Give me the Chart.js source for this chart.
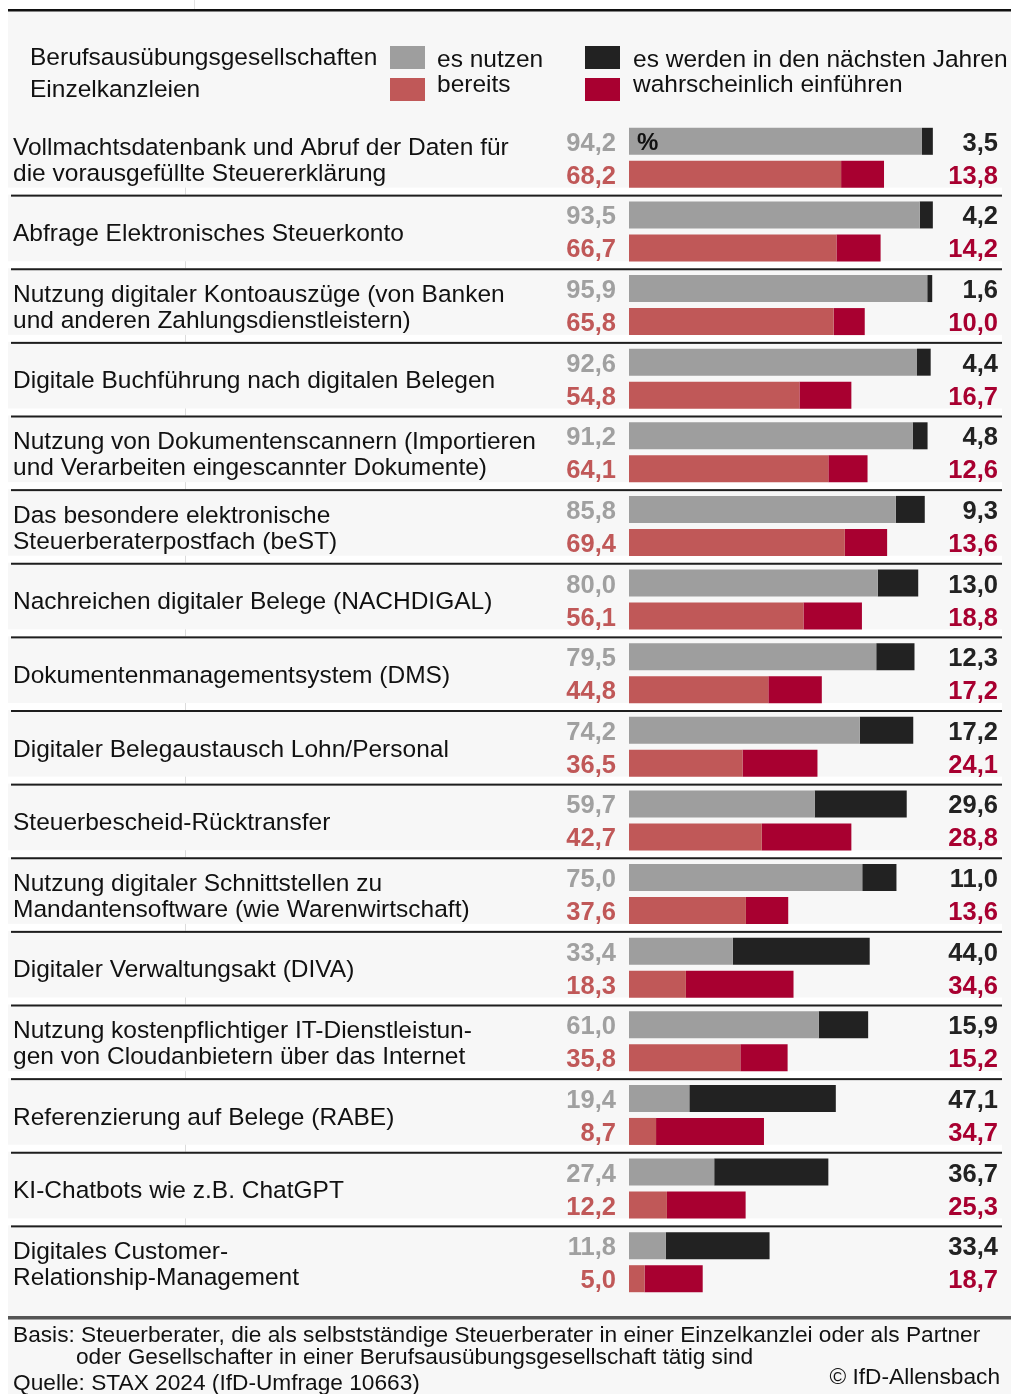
<!DOCTYPE html>
<html>
<head>
<meta charset="utf-8">
<script src="https://cdn.jsdelivr.net/npm/chart.js@4/dist/chart.umd.min.js"></script>
<style>
  body { margin: 0; background: #fff; }
  #c { display: block; }
</style>
</head>
<body>
<canvas id="c" width="1011" height="1394" style="width:1011px;height:1394px"></canvas>
<script>
// Kategorien (mehrzeilig als Arrays)
const categories = [
  ['Vollmachtsdatenbank und Abruf der Daten für', 'die vorausgefüllte Steuererklärung'],
  ['Abfrage Elektronisches Steuerkonto'],
  ['Nutzung digitaler Kontoauszüge (von Banken', 'und anderen Zahlungsdienstleistern)'],
  ['Digitale Buchführung nach digitalen Belegen'],
  ['Nutzung von Dokumentenscannern (Importieren', 'und Verarbeiten eingescannter Dokumente)'],
  ['Das besondere elektronische', 'Steuerberaterpostfach (beST)'],
  ['Nachreichen digitaler Belege (NACHDIGAL)'],
  ['Dokumentenmanagementsystem (DMS)'],
  ['Digitaler Belegaustausch Lohn/Personal'],
  ['Steuerbescheid-Rücktransfer'],
  ['Nutzung digitaler Schnittstellen zu', 'Mandantensoftware (wie Warenwirtschaft)'],
  ['Digitaler Verwaltungsakt (DIVA)'],
  ['Nutzung kostenpflichtiger IT-Dienstleistun-', 'gen von Cloudanbietern über das Internet'],
  ['Referenzierung auf Belege (RABE)'],
  ['KI-Chatbots wie z.B. ChatGPT'],
  ['Digitales Customer-', 'Relationship-Management']
];

// Berufsausübungsgesellschaften
const bagNutzen = [94.2, 93.5, 95.9, 92.6, 91.2, 85.8, 80.0, 79.5, 74.2, 59.7, 75.0, 33.4, 61.0, 19.4, 27.4, 11.8];
const bagPlanen = [3.5, 4.2, 1.6, 4.4, 4.8, 9.3, 13.0, 12.3, 17.2, 29.6, 11.0, 44.0, 15.9, 47.1, 36.7, 33.4];
// Einzelkanzleien
const ekNutzen = [68.2, 66.7, 65.8, 54.8, 64.1, 69.4, 56.1, 44.8, 36.5, 42.7, 37.6, 18.3, 35.8, 8.7, 12.2, 5.0];
const ekPlanen = [13.8, 14.2, 10.0, 16.7, 12.6, 13.6, 18.8, 17.2, 24.1, 28.8, 13.6, 34.6, 15.2, 34.7, 25.3, 18.7];

const GRAY = '#9e9e9e', BLACK = '#222222', RED = '#c05858', CRIMSON = '#a80030';
const FONT = '"Liberation Sans", Arial, Helvetica, sans-serif';

function fmt(v) { return v.toFixed(1).replace('.', ','); }

const decor = {
  id: 'decor',
  beforeDraw(chart) {
    const ctx = chart.ctx;
    const y = chart.scales.y;
    ctx.save();
    ctx.fillStyle = '#fff';
    ctx.fillRect(0, 0, chart.width, chart.height);
    ctx.fillStyle = '#f7f7f7';
    ctx.fillRect(8, 11, chart.width - 8, chart.height - 11);
    // faint line at top
    ctx.fillStyle = '#e2e2e2';
    ctx.fillRect(194, 0, 1, 9);
    // top rule
    ctx.fillStyle = '#111';
    ctx.fillRect(8, 9, chart.width - 8, 2.5);
    // group separators
    for (let i = 0; i < categories.length - 1; i++) {
      const b = (y.getPixelForValue(i) + y.getPixelForValue(i + 1)) / 2;
      ctx.fillStyle = '#ffffff';
      ctx.fillRect(8, b - 7, 994, 7);
      ctx.fillStyle = '#dcdcdc';
      ctx.fillRect(185, b - 7, 1, 7);
      ctx.fillStyle = '#1e1e1e';
      ctx.fillRect(11, b, 991, 2);
    }
    // bottom rule
    ctx.fillStyle = '#555';
    ctx.fillRect(8, 1316, chart.width - 8, 3.5);
    ctx.restore();
  },
  afterDatasetsDraw(chart) {
    const ctx = chart.ctx;
    const y = chart.scales.y;
    const metaTop = chart.getDatasetMeta(0);
    const metaBot = chart.getDatasetMeta(2);
    ctx.save();
    ctx.textBaseline = 'middle';

    // category labels
    ctx.font = '24.5px ' + FONT;
    ctx.fillStyle = '#111';
    ctx.textAlign = 'left';
    categories.forEach((lines, i) => {
      const c = y.getPixelForValue(i);
      if (lines.length === 1) {
        ctx.fillText(lines[0], 13, c + 3);
      } else {
        ctx.fillText(lines[0], 13, c - 10);
        ctx.fillText(lines[1], 13, c + 16);
      }
    });

    // values
    ctx.font = 'bold 25.5px ' + FONT;
    categories.forEach((_, i) => {
      const yt = metaTop.data[i].y;
      const yb = metaBot.data[i].y;
      ctx.textAlign = 'right';
      ctx.fillStyle = '#a0a0a0';
      ctx.fillText(fmt(bagNutzen[i]), 616, yt + 2.5);
      ctx.fillStyle = RED;
      ctx.fillText(fmt(ekNutzen[i]), 616, yb + 2.5);
      ctx.fillStyle = BLACK;
      ctx.fillText(fmt(bagPlanen[i]), 998, yt + 2.5);
      ctx.fillStyle = CRIMSON;
      ctx.fillText(fmt(ekPlanen[i]), 998, yb + 2.5);
    });

    // percent sign in first bar
    ctx.textAlign = 'left';
    ctx.fillStyle = '#111';
    ctx.font = 'bold 24px ' + FONT;
    ctx.fillText('%', 637, metaTop.data[0].y + 2);

    // legend
    ctx.font = '24.5px ' + FONT;
    ctx.fillStyle = '#111';
    ctx.fillText('Berufsausübungsgesellschaften', 30, 58);
    ctx.fillText('Einzelkanzleien', 30, 90);
    ctx.fillStyle = GRAY; ctx.fillRect(390, 46, 35, 23);
    ctx.fillStyle = RED; ctx.fillRect(390, 78, 35, 23);
    ctx.fillStyle = BLACK; ctx.fillRect(585, 46, 35, 23);
    ctx.fillStyle = CRIMSON; ctx.fillRect(585, 78, 35, 23);
    ctx.fillStyle = '#111';
    ctx.fillText('es nutzen', 437, 60);
    ctx.fillText('bereits', 437, 85);
    ctx.fillText('es werden in den nächsten Jahren', 633, 60);
    ctx.fillText('wahrscheinlich einführen', 633, 85);

    // footer
    ctx.font = '22.7px ' + FONT;
    ctx.fillText('Basis: Steuerberater, die als selbstständige Steuerberater in einer Einzelkanzlei oder als Partner', 13, 1336);
    ctx.fillText('oder Gesellschafter in einer Berufsausübungsgesellschaft tätig sind', 76, 1358);
    ctx.fillText('Quelle: STAX 2024 (IfD-Umfrage 10663)', 13, 1384);
    ctx.textAlign = 'right';
    ctx.fillText('© IfD-Allensbach', 1000, 1378);
    ctx.restore();
  }
};

const ctx = document.getElementById('c').getContext('2d');
new Chart(ctx, {
  type: 'bar',
  data: {
    labels: categories.map(c => c.join(' ')),
    datasets: [
      { label: 'BAG es nutzen bereits', data: bagNutzen, backgroundColor: GRAY, stack: 'bag' },
      { label: 'BAG wahrscheinlich einführen', data: bagPlanen, backgroundColor: BLACK, stack: 'bag' },
      { label: 'EK es nutzen bereits', data: ekNutzen, backgroundColor: RED, stack: 'ek' },
      { label: 'EK wahrscheinlich einführen', data: ekPlanen, backgroundColor: CRIMSON, stack: 'ek' }
    ]
  },
  options: {
    indexAxis: 'y',
    responsive: false,
    animation: false,
    devicePixelRatio: 1,
    categoryPercentage: 0.897,
    barPercentage: 0.818,
    layout: { padding: { left: 629, right: 71, top: 121, bottom: 95 } },
    plugins: { legend: { display: false }, tooltip: { enabled: false } },
    scales: {
      x: { stacked: true, min: 0, max: 100, display: false },
      y: { stacked: true, display: false }
    }
  },
  plugins: [decor]
});
</script>
</body>
</html>
